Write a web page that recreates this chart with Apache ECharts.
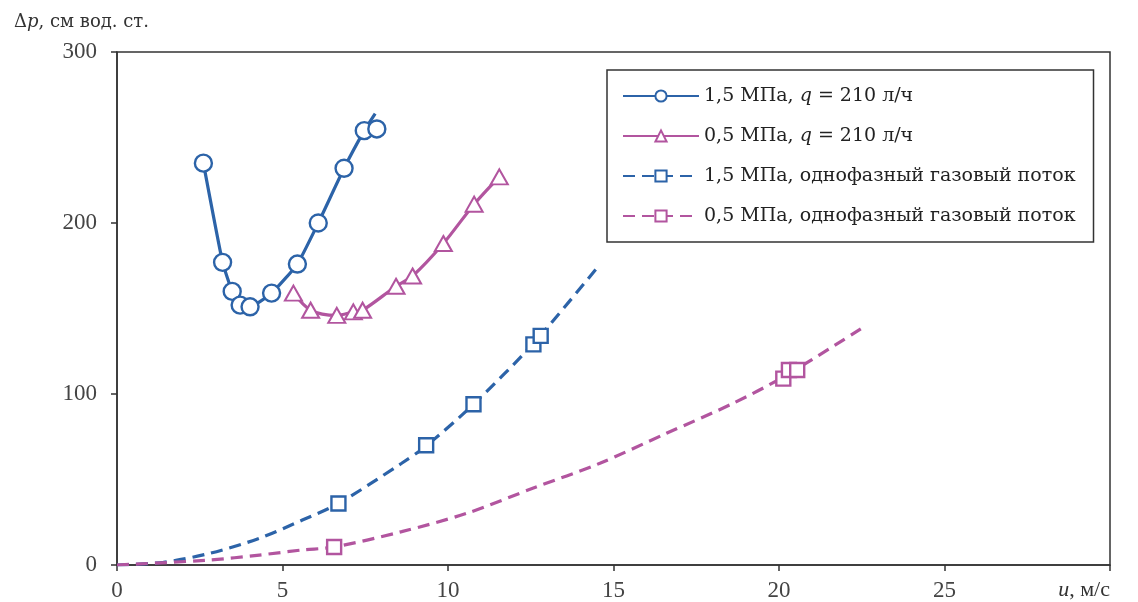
<!DOCTYPE html>
<html><head><meta charset="utf-8">
<script src="https://cdn.jsdelivr.net/npm/echarts@6/dist/echarts.min.js"></script>
<style>html,body{margin:0;padding:0;background:#fff}#c{width:1138px;height:602px}</style>
</head><body><div id="c"></div>
<script>
// Names
const names = [
  '1,5 МПа, q = 210 л/ч',
  '0,5 МПа, q = 210 л/ч',
  '1,5 МПа, однофазный газовый поток',
  '0,5 МПа, однофазный газовый поток'
];
// Axis ticks
const xTicks = [0, 5, 10, 15, 20, 25, 30];
const yTicks = [0, 100, 200, 300];

// 1,5 MPa, q = 210 l/h  (markers)
const circ15 = [[2.61,235],[3.19,177],[3.48,160],[3.72,152],[4.02,151],[4.67,159],[5.45,176],[6.08,200],[6.86,232],[7.47,254],[7.85,255]];
// end of its drawn line
const circ15End = [7.8,264];

// 0,5 MPa, q = 210 l/h
const tri05 = [[5.33,159],[5.85,149],[6.64,146],[7.14,148],[7.42,149],[8.43,163],[8.93,169],[9.86,188],[10.79,211],[11.55,227]];

// 1,5 MPa single-phase gas: markers and dashed curve
const sq15 = [[6.69,36],[9.34,70],[10.77,94],[12.58,129],[12.8,134]];
const curve15 = [[0,0],[1.4,1.6],[2.8,6.8],[4.3,15.6],[5.6,26.3],[6.69,36],[8.6,59.5],[9.34,69.6],[10.77,94],[12.6,130],[14.49,173.5]];

// 0,5 MPa single-phase gas
const sq05 = [[6.56,10.5],[20.13,109],[20.3,114],[20.55,114]];
const curve05 = [[0,0],[2.8,2.9],[4.3,5.8],[5.6,8.8],[6.56,10.5],[8.6,19.5],[10.56,30.2],[12.58,45],[14.59,59.5],[16.6,77],[18.62,94.6],[20.13,110],[22.55,139]];

const BLUE = '#2c63a8';
const PINK = '#b2559f';
const SERIF = "'DejaVu Serif', serif";
const TICKF = "'Liberation Serif', 'Times New Roman', serif";

const none = p => ({value: p, symbol: 'none'});

const chart = echarts.init(document.getElementById('c'), null, {renderer: 'canvas'});
chart.setOption({
  backgroundColor: '#fff',
  animation: false,
  title: {
    text: '{n|Δ}{i|p}{n|, см вод. ст.}',
    left: 9, top: 8,
    textStyle: {
      fontWeight: 'normal',
      rich: {
        n: {fontFamily: SERIF, fontSize: 18, color: '#333', fontWeight: 'normal'},
        i: {fontFamily: SERIF, fontSize: 18, color: '#333', fontStyle: 'italic', fontWeight: 'normal'}
      }
    }
  },
  grid: {left: 117, top: 52, right: 28, bottom: 37, show: true, borderColor: '#333', borderWidth: 1.5, backgroundColor: 'transparent'},
  legend: {
    orient: 'vertical',
    left: 607, top: 70,
    padding: [16, 18, 16, 15],
    borderColor: '#333', borderWidth: 1.5,
    backgroundColor: '#fff',
    itemWidth: 76, itemHeight: 14, itemGap: 20,
    data: names,
    formatter: n => n.replace('q =', '{i|q} ='),
    textStyle: {
      fontFamily: SERIF, fontSize: 19, color: '#222', lineHeight: 20,
      rich: {i: {fontFamily: SERIF, fontSize: 19, color: '#222', fontStyle: 'italic', lineHeight: 20}}
    }
  },
  xAxis: {
    type: 'value', min: xTicks[0], max: xTicks[xTicks.length-1], interval: 5,
    splitLine: {show: false},
    axisLine: {lineStyle: {color: '#333', width: 1.5}},
    axisTick: {length: 6, lineStyle: {color: '#333', width: 1.5}},
    axisLabel: {
      fontFamily: TICKF, fontSize: 23, color: '#444', margin: 14,
      alignMaxLabel: 'right',
      formatter: v => v === 30 ? '{i|u}{t|, м/с}' : String(v),
      rich: {i: {fontFamily: TICKF, fontSize: 22, color: '#333', fontStyle: 'italic'},
             t: {fontFamily: TICKF, fontSize: 22, color: '#333'}}
    }
  },
  yAxis: {
    type: 'value', min: yTicks[0], max: yTicks[yTicks.length-1], interval: 100,
    splitLine: {show: false},
    axisLine: {show: true, lineStyle: {color: '#333', width: 1.5}},
    axisTick: {show: true, length: 6, lineStyle: {color: '#333', width: 1.5}},
    axisLabel: {fontFamily: TICKF, fontSize: 23, color: '#444', margin: 20}
  },
  series: [
    {
      name: names[0], type: 'line', symbol: 'emptyCircle', symbolSize: 14, smooth: 0.15,
      lineStyle: {color: BLUE, width: 3.2}, itemStyle: {color: BLUE, borderWidth: 2},
      data: circ15.slice(0, 10).map(none).concat([none(circ15End)]), z: 2
    },
    {
      name: names[1], type: 'line', symbol: 'emptyTriangle', symbolSize: 14, smooth: 0.3,
      lineStyle: {color: PINK, width: 3.2}, itemStyle: {color: PINK, borderWidth: 2},
      data: tri05.map(none), z: 2
    },
    {
      name: names[2], type: 'line', symbol: 'emptyRect', symbolSize: 13, smooth: 0.3,
      lineStyle: {color: BLUE, width: 3.2, type: [12, 7]}, itemStyle: {color: BLUE, borderWidth: 2},
      data: curve15.map(none), z: 2
    },
    {
      name: names[3], type: 'line', symbol: 'emptyRect', symbolSize: 13, smooth: 0.3,
      lineStyle: {color: PINK, width: 3.2, type: [12, 7]}, itemStyle: {color: PINK, borderWidth: 2},
      data: curve05.map(none), z: 2
    },
    {name: names[0], type: 'scatter', symbol: 'circle', symbolSize: 17, data: circ15,
     itemStyle: {color: '#fff', borderColor: BLUE, borderWidth: 2.4, opacity: 1}, z: 3},
    {name: names[1], type: 'scatter', symbol: 'triangle', symbolSize: [17, 15], data: tri05,
     itemStyle: {color: '#fff', borderColor: PINK, borderWidth: 2, opacity: 1}, z: 3},
    {name: names[2], type: 'scatter', symbol: 'rect', symbolSize: 14, data: sq15,
     itemStyle: {color: '#fff', borderColor: BLUE, borderWidth: 2.4, opacity: 1}, z: 3},
    {name: names[3], type: 'scatter', symbol: 'rect', symbolSize: 14, data: sq05,
     itemStyle: {color: '#fff', borderColor: PINK, borderWidth: 2.4, opacity: 1}, z: 3}
  ]
});
</script>
</body></html>
